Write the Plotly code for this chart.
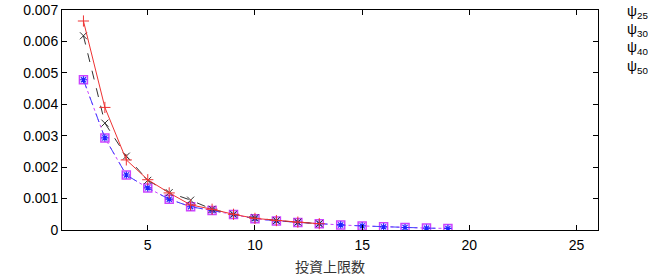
import plotly.graph_objects as go

x_long = list(range(2, 20))
x_short = list(range(2, 14))

psi25 = [0.00665, 0.0039, 0.00223, 0.0016, 0.00118, 0.0008, 0.00066, 0.0005, 0.00037, 0.0003, 0.00025, 0.0002]
psi30 = [0.00618, 0.0034, 0.00235, 0.00158, 0.00119, 0.00095, 0.00066, 0.0005, 0.00039, 0.0003, 0.00025, 0.0002]
psi40 = [0.00478, 0.00293, 0.00175, 0.00134, 0.00098, 0.00074, 0.00062, 0.00049, 0.00036, 0.00029, 0.00024, 0.0002,
         0.00016, 0.00013, 0.0001, 0.00008, 0.00006, 0.00005]
psi50 = [0.00478, 0.00293, 0.00175, 0.00134, 0.00098, 0.00074, 0.00062, 0.00049, 0.00036, 0.00029, 0.00024, 0.0002,
         0.00016, 0.00013, 0.0001, 0.00008, 0.00006, 0.00005]

legend_labels = ["ψ<sub>25</sub>", "ψ<sub>30</sub>", "ψ<sub>40</sub>", "ψ<sub>50</sub>"]
y_tick_vals = [0, 0.001, 0.002, 0.003, 0.004, 0.005, 0.006, 0.007]
y_tick_text = ["0", "0.001", "0.002", "0.003", "0.004", "0.005", "0.006", "0.007"]
x_tick_vals = [5, 10, 15, 20, 25]
x_title = "投資上限数"

fig = go.Figure()
fig.add_trace(go.Scatter(x=x_long, y=psi50, mode="lines+markers",
                         line=dict(color="#cc44ff", width=1, dash="dot"),
                         marker=dict(symbol="square-open", size=8, color="#cc44ff", line=dict(width=1.5))))
fig.add_trace(go.Scatter(x=x_long, y=psi40, mode="lines+markers",
                         line=dict(color="#4444ff", width=1, dash="dash"),
                         marker=dict(symbol="asterisk-open", size=6, color="#2222ff", line=dict(width=1.2))))
fig.add_trace(go.Scatter(x=x_short, y=psi30, mode="lines+markers",
                         line=dict(color="#333333", width=1, dash="dash"),
                         marker=dict(symbol="x-thin-open", size=7, color="#333333", line=dict(width=1))))
fig.add_trace(go.Scatter(x=x_short, y=psi25, mode="lines+markers",
                         line=dict(color="#ee3333", width=1),
                         marker=dict(symbol="cross-thin-open", size=8, color="#ee3333", line=dict(width=1))))

fig.add_annotation(text="<br>".join(legend_labels), xref="paper", yref="paper", x=1.05, y=1.04,
                   xanchor="left", yanchor="top", align="left", showarrow=False,
                   font=dict(size=14, color="black", family="Liberation Sans, Arial"))

axis_common = dict(showline=True, linecolor="black", linewidth=1, mirror="ticks",
                   ticks="inside", ticklen=5, tickcolor="black", showgrid=False, zeroline=False,
                   automargin=False,
                   tickfont=dict(size=14, color="black", family="Liberation Sans, Arial"))
fig.update_xaxes(range=[1, 26], tickvals=x_tick_vals, ticklabelstandoff=2, **axis_common,
                 title=dict(text=x_title, font=dict(size=14, color="#333333", family="Noto Sans CJK JP"), standoff=10))
fig.update_yaxes(range=[0, 0.007], tickvals=y_tick_vals, ticktext=y_tick_text, **axis_common)

fig.update_layout(width=648, height=280, margin=dict(l=62, r=50, t=10, b=50),
                  plot_bgcolor="white", paper_bgcolor="white", showlegend=False)
fig.write_html("out.html")
